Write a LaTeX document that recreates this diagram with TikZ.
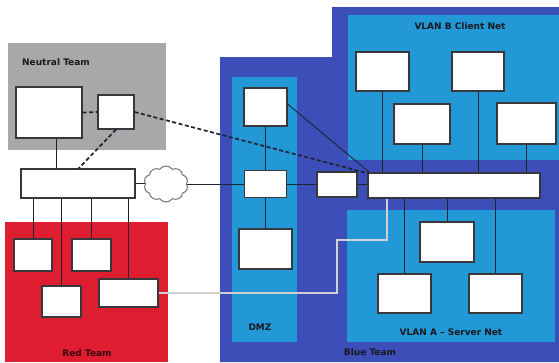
\documentclass[tikz,border=0pt]{standalone}
\usepackage{fontspec}
\setmainfont{DejaVu Sans}
\usetikzlibrary{shapes.symbols}
\definecolor{darkblue}{RGB}{60,78,184}
\definecolor{lightblue}{RGB}{34,152,214}
\definecolor{teamred}{RGB}{222,30,48}
\definecolor{teamgray}{RGB}{168,168,168}
\definecolor{boxline}{RGB}{55,55,60}
\definecolor{wire}{RGB}{30,35,50}
\definecolor{lbl}{RGB}{25,25,30}
\tikzset{
  box/.style={draw=boxline, line width=1.1pt, fill=white, inner sep=0pt},
  wireline/.style={draw=wire, line width=0.9pt},
  dashline/.style={draw=wire, line width=1.7pt, dash pattern=on 4pt off 2.5pt},
  grayline/.style={draw=black!18, line width=1.8pt},
  teamlabel/.style={font=\bfseries\fontsize{9}{10}\selectfont, text=lbl, inner sep=0pt},
}
\newcommand{\bx}[5]{\node[box, minimum width=#4pt, minimum height=#5pt] (#1) at (#2,#3) {};}
\begin{document}
\begin{tikzpicture}[x=1pt,y=-1pt]
\useasboundingbox (0,0) rectangle (559,362);
\fill[white] (0,0) rectangle (559,362);
% regions
\fill[teamgray] (8,43) rectangle (166,150);
\fill[teamred] (5,222) rectangle (168,362);
\fill[darkblue] (220,57) -- (332,57) -- (332,7) -- (559,7) -- (559,362) -- (220,362) -- cycle;
\fill[lightblue] (232,77) rectangle (297,342);
\fill[lightblue] (348,15) rectangle (559,160);
\fill[lightblue] (347,210) rectangle (555,342);
% labels
\node[teamlabel, anchor=west] (lneutral) at (22,62) {Neutral Team};
\node[teamlabel, text=black!75!teamred] (lred) at (87,353) {Red Team};
\node[teamlabel] (ldmz) at (260,327) {DMZ};
\node[teamlabel] (lvlanb) at (460,26) {VLAN B Client Net};
\node[teamlabel] (lvlana) at (451,332) {VLAN A -- Server Net};
\node[teamlabel] (lblue) at (370,352) {Blue Team};
% boxes
\bx{n1}{49}{112.5}{66}{51}
\bx{n2}{116}{112}{36}{34}
\bx{sw}{78}{183.5}{114}{29}
\node[cloud, cloud puffs=10, cloud puff arc=110, draw=black!55, line width=1pt, fill=white, minimum width=44pt, minimum height=36pt, inner sep=0pt] (cl) at (166,184) {};
\bx{r1}{33}{255}{38}{32}
\bx{r2}{91.5}{255}{39}{32}
\bx{r3}{61.5}{301.5}{39}{31}
\bx{r4}{128.5}{293}{59}{28}
\bx{d1}{265.5}{107}{43}{38}
\bx{d2}{265.5}{184}{42}{27}
\bx{d3}{265.5}{249}{53}{40}
\bx{fw}{337}{184.5}{40}{25}
\bx{swb}{454}{185.5}{172}{25}
\bx{b1}{382.5}{71.5}{53}{39}
\bx{b2}{478}{71.5}{52}{39}
\bx{b3}{422}{124}{56}{40}
\bx{b4}{526.5}{123.5}{59}{41}
\bx{a1}{447}{242}{54}{40}
\bx{a2}{404.5}{293.5}{53}{39}
\bx{a3}{495.5}{293.5}{53}{39}
\coordinate (gA) at (337,293);
\coordinate (gB) at (337,240);
\coordinate (gC) at (387,240);
% connectors
\draw[wireline] ([xshift=7pt]n1.south) -- ([xshift=7pt]n1.south |- sw.north);
\draw[dashline] (n1.east) -- (n2.west);
\draw[dashline] (n2.south) -- ([xshift=-57pt]sw.north east);
\draw[dashline] (n2.east) -- ([xshift=1pt,yshift=-1pt]swb.north west);
\draw[wireline] (sw.east) -- (sw.east -| cl.west);
\draw[wireline] (cl.east |- d2.west) -- (d2.west);
\draw[wireline] (d2.east) -- (d2.east -| fw.west);
\draw[wireline] (fw.east) -- (fw.east -| swb.west);
\draw[wireline] (d1.south) -- (d2.north);
\draw[wireline] (d2.south) -- (d3.north);
\draw[wireline] ([yshift=3pt]d1.east) -- ([xshift=2pt]swb.north west);
\foreach \r in {r1,r2,r3,r4}{
  \draw[wireline] (\r.north |- sw.south) -- (\r.north);
}
\foreach \b in {b1,b2,b3,b4}{
  \draw[wireline] (\b.south) -- (\b.south |- swb.north);
}
\foreach \a in {a1,a2,a3}{
  \draw[wireline] (\a.north |- swb.south) -- (\a.north);
}
\draw[grayline] (r4.east) -- (gA) -- (gB) -- (gC) -- (gC |- swb.south);
\end{tikzpicture}
\end{document}
